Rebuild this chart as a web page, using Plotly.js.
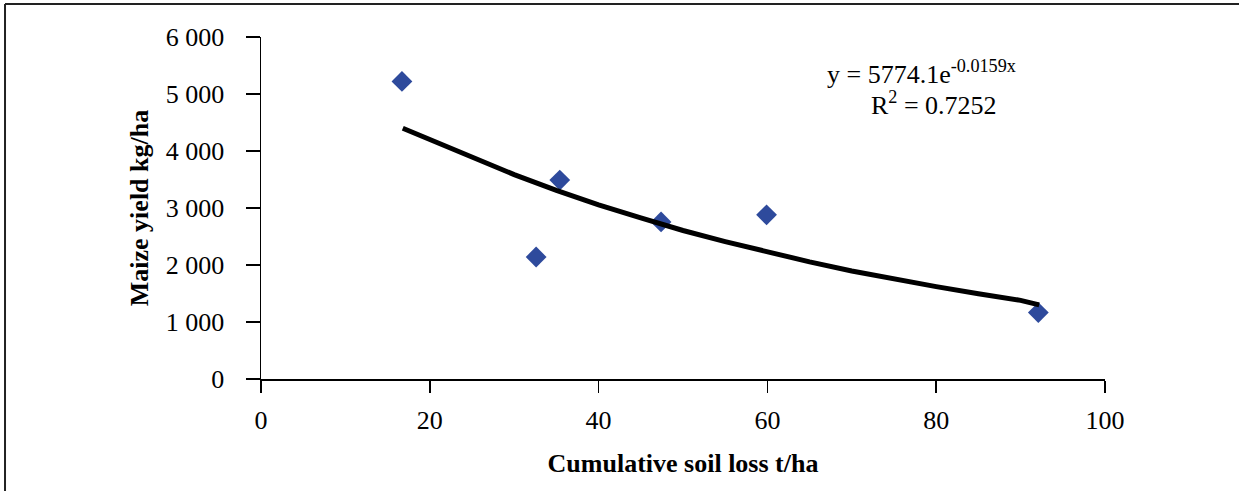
<!DOCTYPE html>
<html>
<head>
<meta charset="utf-8">
<script src="https://cdn.plot.ly/plotly-3.0.1.min.js"></script>
<style>
  html, body { margin: 0; padding: 0; background: #fff; }
  #chart { width: 1239px; height: 491px; }
</style>
</head>
<body>
<div id="chart"></div>
<script>
const soilLoss = [16.7, 32.6, 35.4, 47.4, 59.9, 92.1];
const maizeYield = [5220, 2140, 3490, 2755, 2880, 1165];

// Exponential trendline as drawn
const trendX = [16.8, 20, 25, 30, 35, 40, 45, 50, 55, 60, 65, 70, 75, 80, 85, 90, 92.2];
const trendY = [4400, 4200, 3880, 3585, 3310, 3055, 2825, 2605, 2410, 2225, 2055, 1895, 1750, 1620, 1495, 1380, 1300];

const yTickVals = [0, 1000, 2000, 3000, 4000, 5000, 6000];
const yTickText = ["0", "1 000", "2 000", "3 000", "4 000", "5 000", "6 000"];
const xTickVals = [0, 20, 40, 60, 80, 100];

const equationText = "y = 5774.1e<sup>-0.0159x</sup>";
const r2Text = "R<sup>2</sup> = 0.7252";

const serif = "'Liberation Serif', 'Times New Roman', serif";

const traces = [
  {
    x: soilLoss, y: maizeYield, type: "scatter", mode: "markers",
    marker: { symbol: "diamond", size: 16, color: "#2E4A9C" },
    hoverinfo: "x+y", showlegend: false
  },
  {
    x: trendX, y: trendY, type: "scatter", mode: "lines",
    line: { color: "#000000", width: 5 },
    hoverinfo: "skip", showlegend: false
  }
];

const layout = {
  width: 1239, height: 491,
  margin: { l: 261, r: 134, t: 37, b: 112, pad: 0 },
  paper_bgcolor: "#ffffff", plot_bgcolor: "#ffffff",
  font: { family: serif, size: 26, color: "#000" },
  xaxis: {
    range: [0, 100], tickvals: xTickVals, ticktext: xTickVals.map(String),
    showgrid: false, zeroline: false,
    showline: true, linecolor: "#000", linewidth: 1.5,
    ticks: "outside", ticklen: 12, tickwidth: 1.5, tickcolor: "#000",
    ticklabelstandoff: 5,
    tickfont: { family: serif, size: 26 },
    title: { text: "<b>Cumulative soil loss t/ha</b>", font: { family: serif, size: 26 }, standoff: 20 }
  },
  yaxis: {
    range: [0, 6000], tickvals: yTickVals, ticktext: yTickText,
    showgrid: false, zeroline: false,
    showline: true, linecolor: "#000", linewidth: 1.5,
    ticks: "outside", ticklen: 14, tickwidth: 1.5, tickcolor: "#000",
    ticklabelstandoff: 16,
    tickfont: { family: serif, size: 26 },
    title: { text: "<b>Maize yield kg/ha</b>", font: { family: serif, size: 26 }, standoff: 9 }
  },
  shapes: [
    { type: "line", xref: "paper", yref: "paper", x0: -0.3033, x1: -0.3033, y0: 1.0965, y1: -0.33,
      line: { color: "#222", width: 2 } },
    { type: "line", xref: "paper", yref: "paper", x0: -0.3033, x1: 1.17, y0: 1.0965, y1: 1.0965,
      line: { color: "#222", width: 2 } }
  ],
  annotations: [
    { xref: "paper", yref: "paper", x: 0.783, y: 0.895, text: equationText, showarrow: false,
      font: { family: serif, size: 26, color: "#000" }, xanchor: "center", yanchor: "middle" },
    { xref: "paper", yref: "paper", x: 0.797, y: 0.805, text: r2Text, showarrow: false,
      font: { family: serif, size: 26, color: "#000" }, xanchor: "center", yanchor: "middle" }
  ]
};

Plotly.newPlot("chart", traces, layout, { displayModeBar: false, staticPlot: true });
</script>
</body>
</html>
